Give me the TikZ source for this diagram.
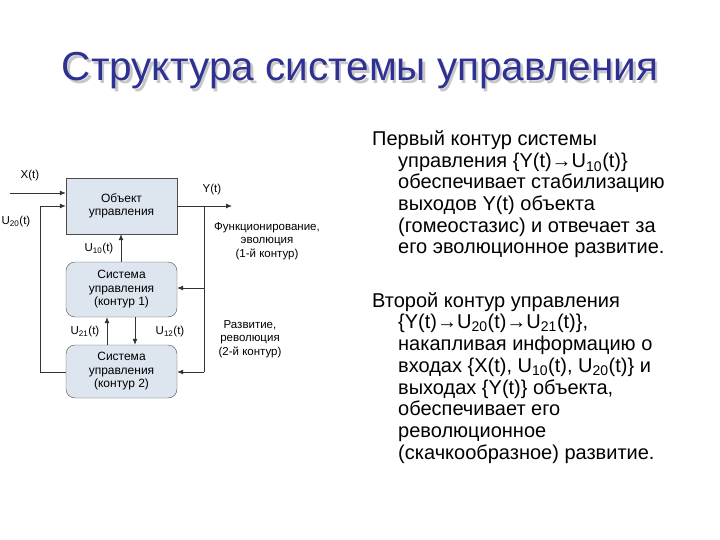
\documentclass[tikz,border=0pt]{standalone}
\usepackage{fontspec}
\setmainfont{Liberation Sans}
\newcommand{\sbs}[1]{\textsubscript{#1}}
\begin{document}
\begin{tikzpicture}[x=1pt,y=-1pt,
  blk/.style={draw=black!70,fill=boxc,minimum width=111pt,align=center,font=\fontsize{12}{13.5}\selectfont,inner sep=0pt},
  lab/.style={font=\fontsize{11.5}{13.5}\selectfont,align=center,inner sep=1pt},
  ln/.style={draw=black!80,line width=0.8pt},
  ar/.style={ln,-{Latex[length=6pt,width=5pt]}},
  rt/.style={anchor=base west,font=\fontsize{20}{21}\selectfont,inner sep=0pt}]
\usetikzlibrary{arrows.meta}
\definecolor{boxc}{HTML}{DDE5EE}
\definecolor{titc}{HTML}{2E3192}
\useasboundingbox (0,0) rectangle (720,540);
% title
\node[font=\fontsize{40.5}{44}\selectfont,text=black!22] at (362.5,73.5) {Структура системы управления};
\node[font=\fontsize{40.5}{44}\selectfont,text=titc] (title) at (360,71) {Структура системы управления};
% blocks
\node[blk,minimum height=56pt] (obj) at (121.5,206) {Объект\\управления};
\node[blk,minimum height=55pt,rounded corners=9pt] (s1) at (121.5,289.5) {Система\\управления\\(контур 1)};
\node[blk,minimum height=53pt,rounded corners=9pt] (s2) at (121.5,371.5) {Система\\управления\\(контур 2)};
% inputs
\coordinate (xin) at (10,193);
\draw[ar] (xin) -- (obj.west |- xin);
\node[lab] (xl) at (30,176) {X(t)};
\coordinate (u20a) at (40,372);
\coordinate (u20b) at (40,206);
\draw[ar] (s2.west |- u20a) -- (u20a) -- (u20b) -- (obj.west |- u20b);
\node[lab] (u20l) at (16,222) {U\sbs{20}(t)};
% output
\coordinate (yout) at (232,206);
\coordinate (br) at (204,206);
\draw[ar] (obj.east |- yout) -- (yout);
\node[lab] (yl) at (212,190) {Y(t)};
\coordinate (b1) at (204,288);
\coordinate (b2) at (204,372);
\draw[ln] (br) -- (b2);
\draw[ar] (b1) -- (s1.east |- b1);
\draw[ar] (b2) -- (s2.east |- b2);
\node[lab] (fl) at (267,241) {Функционирование,\\эволюция\\(1-й контур)};
\node[lab] (rl) at (250,339) {Развитие,\\революция\\(2-й контур)};
% internal arrows
\draw[ar] (s1.north -| 121,0) -- (obj.south -| 121,0);
\node[lab] (u10l) at (99,249) {U\sbs{10}(t)};
\draw[ar] (s2.north -| 107,0) -- (s1.south -| 107,0);
\draw[ar] (s1.south -| 135,0) -- (s2.north -| 135,0);
\node[lab] (u21l) at (85,332) {U\sbs{21}(t)};
\node[lab] (u12l) at (170,332) {U\sbs{12}(t)};
% right text
\node[rt] (p1) at (372,146) {Первый контур системы};
\node[rt] (p2) at (398,168) {управления \{Y(t)→U\sbs{10}(t)\}};
\node[rt] (p3) at (398,189) {обеспечивает стабилизацию};
\node[rt] (p4) at (398,211) {выходов Y(t) объекта};
\node[rt] (p5) at (398,233) {(гомеостазис) и отвечает за};
\node[rt] (p6) at (398,254) {его эволюционное развитие.};
\node[rt] (q1) at (372,307) {Второй контур управления};
\node[rt] (q2) at (398,328) {\{Y(t)→U\sbs{20}(t)→U\sbs{21}(t)\},};
\node[rt] (q3) at (398,350) {накапливая информацию о};
\node[rt] (q4) at (398,372) {входах \{X(t), U\sbs{10}(t), U\sbs{20}(t)\} и};
\node[rt] (q5) at (398,394) {выходах \{Y(t)\} объекта,};
\node[rt] (q6) at (398,415) {обеспечивает его};
\node[rt] (q7) at (398,437) {революционное};
\node[rt] (q8) at (398,459) {(скачкообразное) развитие.};
\end{tikzpicture}
\end{document}
